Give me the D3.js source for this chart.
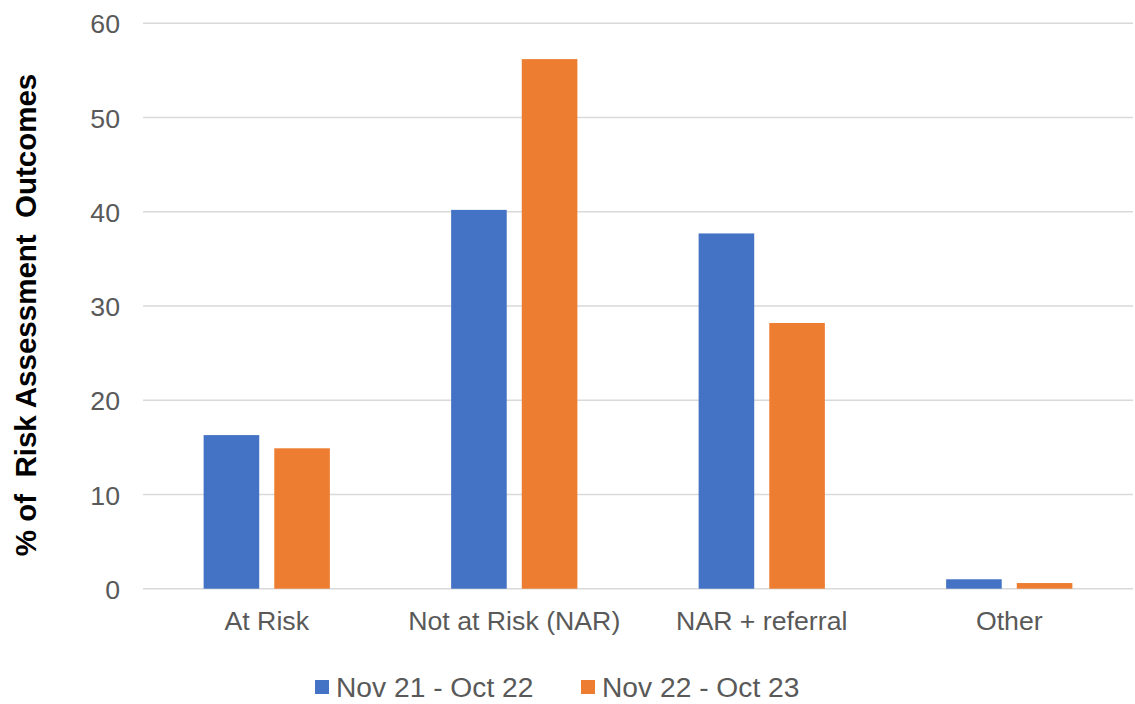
<!DOCTYPE html>
<html>
<head>
<meta charset="utf-8">
<script src="https://cdn.jsdelivr.net/npm/d3@7"></script>
<style>
  html, body { margin: 0; padding: 0; background: #fff; }
  svg { display: block; font-family: "Liberation Sans", Arial, sans-serif; }
</style>
</head>
<body>
<svg id="chart" width="1135" height="704"></svg>
<script>
// Outcome categories and the two reporting periods
const categories = ["At Risk", "Not at Risk (NAR)", "NAR + referral", "Other"];
const seriesNames = ["Nov 21 - Oct 22", "Nov 22 - Oct 23"];
const seriesColors = ["#4472C4", "#ED7D31"];
const valuesNov21 = [16.3, 40.2, 37.7, 1.0];
const valuesNov22 = [14.9, 56.2, 28.2, 0.6];
const yTicks = [0, 10, 20, 30, 40, 50, 60];
const yTitle = "% of\u00A0\u00A0Risk Assessment\u00A0\u00A0Outcomes";

const rows = categories.map((c, i) => ({
  category: c,
  values: [valuesNov21[i], valuesNov22[i]]
}));

const svg = d3.select("#chart");
const plot = { left: 143, right: 1133, top: 23.3, bottom: 588.7 };

const x = d3.scaleBand()
  .domain(categories)
  .range([plot.left, plot.right])
  .paddingInner(0.49)
  .paddingOuter(0.245);

const xInner = d3.scaleBand()
  .domain(d3.range(seriesNames.length))
  .range([0, x.bandwidth()])
  .paddingInner(0.213);

const y = d3.scaleLinear()
  .domain([0, 60])
  .range([plot.bottom, plot.top]);

// Horizontal gridlines (the zero line doubles as the category axis)
svg.append("g")
  .selectAll("line")
  .data(yTicks)
  .join("line")
  .attr("x1", plot.left)
  .attr("x2", plot.right)
  .attr("y1", d => y(d))
  .attr("y2", d => y(d))
  .attr("stroke", "#d9d9d9")
  .attr("stroke-width", 1.4);

// Y axis tick labels
const yAxis = d3.axisLeft(y).tickValues(yTicks).tickSize(0).tickPadding(0);
const yAxisG = svg.append("g")
  .attr("transform", `translate(120,0)`)
  .call(yAxis);
yAxisG.select(".domain").remove();
yAxisG.selectAll("text")
  .attr("font-size", 26.7)
  .attr("font-family", "'Liberation Sans', Arial, sans-serif")
  .attr("fill", "#595959")
  .attr("dy", "0.36em");

// Category labels under the zero line
const xAxis = d3.axisBottom(x).tickSize(0).tickPadding(0);
const xAxisG = svg.append("g")
  .attr("transform", `translate(0,${plot.bottom})`)
  .call(xAxis);
xAxisG.select(".domain").remove();
xAxisG.selectAll("text")
  .attr("font-size", 26.7)
  .attr("font-family", "'Liberation Sans', Arial, sans-serif")
  .attr("fill", "#595959")
  .attr("y", 41)
  .attr("dy", 0);

// Grouped bars
const groups = svg.append("g")
  .selectAll("g")
  .data(rows)
  .join("g")
  .attr("transform", d => `translate(${x(d.category)},0)`);

groups.selectAll("rect")
  .data(d => d.values.map((v, i) => ({ v, i })))
  .join("rect")
  .attr("x", d => xInner(d.i))
  .attr("width", xInner.bandwidth())
  .attr("y", d => y(d.v))
  .attr("height", d => y(0) - y(d.v))
  .attr("fill", d => seriesColors[d.i]);

// Y axis title
svg.append("text")
  .attr("transform", `translate(35.5,315) rotate(-90)`)
  .attr("text-anchor", "middle")
  .attr("font-size", 29.5)
  .attr("font-weight", "bold")
  .attr("fill", "#000")
  .text(yTitle);

// Legend
const legendItems = [
  { name: seriesNames[0], color: seriesColors[0], x: 315 },
  { name: seriesNames[1], color: seriesColors[1], x: 581 }
];
const legend = svg.append("g");
const li = legend.selectAll("g")
  .data(legendItems)
  .join("g")
  .attr("transform", d => `translate(${d.x},680)`);
li.append("rect")
  .attr("width", 14)
  .attr("height", 14)
  .attr("fill", d => d.color);
li.append("text")
  .attr("x", 21)
  .attr("y", 17)
  .attr("font-size", 28.2)
  .attr("fill", "#595959")
  .text(d => d.name);
</script>
</body>
</html>
